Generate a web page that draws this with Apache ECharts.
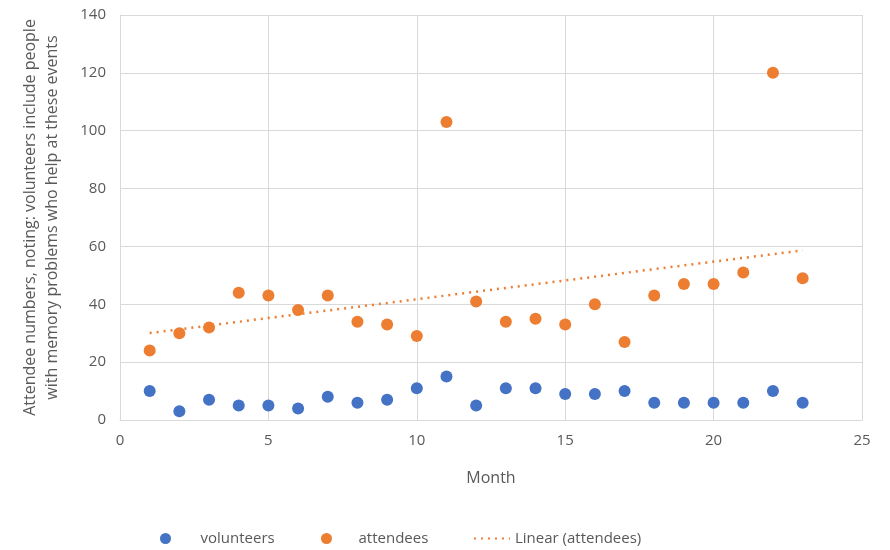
<!DOCTYPE html>
<html><head><meta charset="utf-8">
<script src="https://cdn.jsdelivr.net/npm/echarts@6/dist/echarts.min.js"></script>
<style>html,body{margin:0;padding:0;background:#fff}#c{width:890px;height:550px}</style>
</head><body><div id="c"></div>
<script>
const months = [1,2,3,4,5,6,7,8,9,10,11,12,13,14,15,16,17,18,19,20,21,22,23];
const volunteers = [10,3,7,5,5,4,8,6,7,11,15,5,11,11,9,9,10,6,6,6,6,10,6];
const attendees = [24,30,32,44,43,38,43,34,33,29,103,41,34,35,33,40,27,43,47,47,51,120,49];
const xTicks = [0,5,10,15,20,25];
const yTicks = [0,20,40,60,80,100,120,140];

// least-squares trendline of attendees (like Excel "Linear")
const n = months.length;
const mx = months.reduce((a,b)=>a+b,0)/n;
const my = attendees.reduce((a,b)=>a+b,0)/n;
let sxy=0,sxx=0;
for(let i=0;i<n;i++){sxy+=(months[i]-mx)*(attendees[i]-my);sxx+=(months[i]-mx)**2;}
const slope=sxy/sxx, intercept=my-slope*mx;
const trend = [[months[0], intercept+slope*months[0]],[months[n-1], intercept+slope*months[n-1]]];

const font = '"Open Sans", "Noto Sans", sans-serif';
const txt = '#595959';
const chart = echarts.init(document.getElementById('c'));
chart.setOption({
  animation:false,
  textStyle:{fontFamily:font},
  grid:{left:120,right:28,top:15,bottom:130},
  xAxis:{type:'value',min:xTicks[0],max:xTicks[xTicks.length-1],interval:5,
    name:'Month',nameLocation:'middle',nameGap:50,
    nameTextStyle:{color:txt,fontSize:16,fontFamily:font},
    axisLine:{show:true,lineStyle:{color:'#d9d9d9'}},axisTick:{show:false},
    axisLabel:{color:txt,fontSize:15,margin:13,fontFamily:font},
    splitLine:{show:true,lineStyle:{color:'#d9d9d9'}}},
  yAxis:{type:'value',min:yTicks[0],max:yTicks[yTicks.length-1],interval:20,
    name:'Attendee numbers, noting: volunteers include people\nwith memory problems who help at these events',
    nameLocation:'middle',nameGap:57,
    nameTextStyle:{color:txt,fontSize:16,lineHeight:22,fontFamily:font},
    axisLine:{show:true,lineStyle:{color:'#d9d9d9'}},axisTick:{show:false},
    axisLabel:{color:txt,fontSize:15,margin:14,fontFamily:font},
    splitLine:{show:true,lineStyle:{color:'#d9d9d9'}}},
  legend:[
    {left:155,top:526,itemWidth:60,itemHeight:11,data:['volunteers'],textStyle:{color:txt,fontSize:15,fontFamily:font}},
    {left:316,top:526,itemWidth:54,itemHeight:11,data:['attendees'],textStyle:{color:txt,fontSize:15,fontFamily:font}},
    {left:468,top:526,itemWidth:36,itemHeight:11,itemGap:5,itemStyle:{opacity:0},
      data:['Linear (attendees)'],textStyle:{color:txt,fontSize:15,fontFamily:font}}
  ],
  series:[
    {name:'volunteers',type:'scatter',symbolSize:12,itemStyle:{color:'#4472C4',opacity:1},
      data:months.map((m,i)=>[m,volunteers[i]])},
    {name:'attendees',type:'scatter',symbolSize:12,itemStyle:{color:'#ED7D31',opacity:1},
      data:months.map((m,i)=>[m,attendees[i]])},
    {name:'Linear (attendees)',type:'line',symbol:'none',data:trend,
      lineStyle:{color:'#ED7D31',width:2.5,type:[2,5]},itemStyle:{color:'#ED7D31'},z:1}
  ]
});
</script></body></html>
